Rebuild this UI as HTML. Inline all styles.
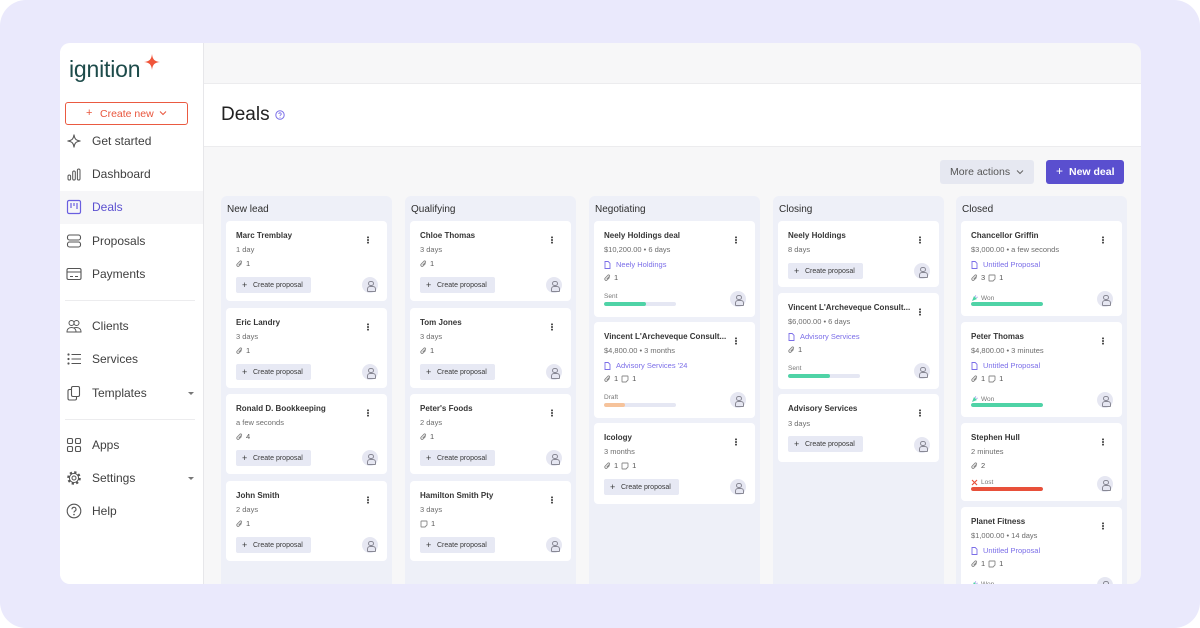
<!DOCTYPE html>
<html><head><meta charset="utf-8">
<style>
*{box-sizing:border-box}
body{margin:0;width:1200px;height:628px;background:#fff;position:relative;overflow:hidden;font-family:"Liberation Sans",sans-serif}
#bg{position:absolute;left:0;top:0;width:1200px;height:628px;background:#eae9fc;border-radius:26px}
#panel{position:absolute;left:60px;top:43px;width:1081px;height:541px;border-radius:10px;overflow:hidden;background:#f7f7f8}
#pg{position:absolute;left:-60px;top:-43px;width:1200px;height:628px}
.a{position:absolute}
.nav{position:absolute;left:92px;font-size:12px;line-height:16px;color:#3f3f3f;white-space:nowrap}
.nic{position:absolute;left:66px;width:16px;height:16px}
.div{position:absolute;left:65px;width:130px;height:1px;background:#ececee}
.chev{position:absolute;left:188px;width:0;height:0;border-left:3px solid transparent;border-right:3px solid transparent;border-top:3px solid #777}
.col{position:absolute;top:196px;width:171px;height:400px;background:#eef0f8;border-radius:6px}
.ct{position:absolute;left:6px;top:8px;font-size:10px;line-height:12px;color:#2e2e2e}
.card{position:absolute;left:5px;width:161px;background:#fff;border-radius:4px}
.nm{position:absolute;left:10px;font-size:8px;font-weight:bold;line-height:12px;color:#363636;white-space:nowrap}
.sb{position:absolute;left:10px;font-size:7.5px;line-height:10px;color:#6d6d6d;white-space:nowrap}
.ic{position:absolute;left:10px;height:10px;display:flex;align-items:center;font-size:7.5px;line-height:10px;color:#555;white-space:nowrap}
.ic svg{margin-right:3px}
.ic .g{margin-left:3px}
.lk{position:absolute;left:10px;height:10px;display:flex;align-items:center;font-size:7.5px;line-height:10px;color:#7b6ee8;white-space:nowrap}
.lk svg{margin-right:5px}
.btn{position:absolute;left:10px;width:75px;height:16px;background:#e7e9f4;border-radius:2px;font-size:7px;color:#3a3a3a;white-space:nowrap}
.btn b{position:absolute;left:6px;top:0;height:16px;line-height:16px;font-weight:normal;font-size:9px}
.btn span{position:absolute;left:17px;top:1px;height:15px;line-height:15px}
.av{position:absolute;left:136px;width:16px;height:16px;border-radius:50%;background:#e6e7f2}
.av::before{content:"";position:absolute;left:6.25px;top:3.5px;width:3.5px;height:3.5px;border:1px solid #888894;border-radius:50%}
.av::after{content:"";position:absolute;left:4.5px;top:8.5px;width:7px;height:4px;border:1px solid #888894;border-radius:3px 3px 1px 1px}
.kb{position:absolute;left:141px;width:1.8px;height:1.8px;border-radius:50%;background:#444;box-shadow:0 -2.6px 0 #444,0 2.6px 0 #444}
.stl{position:absolute;left:10px;font-size:6.5px;line-height:9px;color:#777;white-space:nowrap;display:flex;align-items:center}
.bar{position:absolute;left:10px;width:72px;height:4px;border-radius:2px;background:#e5e7f3;overflow:hidden}
.bar i{position:absolute;left:0;top:0;height:4px;border-radius:2px}
</style></head><body>
<div id="bg"></div>
<div id="panel"><div id="pg">

<!-- sidebar -->
<div class="a" style="left:60px;top:43px;width:144px;height:541px;background:#fff;border-right:1px solid #e7e7ea"></div>
<div class="a" style="left:69px;top:56px;font-size:23px;line-height:26px;color:#1d4b4a;letter-spacing:-0.2px">ignition</div>
<svg class="a" style="left:144px;top:54px" width="16" height="16" viewBox="0 0 16 16"><path d="M8 0 C8.6 5.5 10.5 7.4 16 8 C10.5 8.6 8.6 10.5 8 16 C7.4 10.5 5.5 8.6 0 8 C5.5 7.4 7.4 5.5 8 0Z" fill="#f0553a"/></svg>

<div class="a" style="left:65px;top:102px;width:123px;height:23px;border:1px solid #ea5a41;border-radius:3px"></div>
<div class="a" style="left:86px;top:106px;font-size:11px;line-height:14px;color:#e8553c">+</div>
<div class="a" style="left:100px;top:107px;font-size:10.5px;line-height:14px;color:#e8553c">Create new</div>
<svg class="a" style="left:159px;top:110px" width="8" height="6" viewBox="0 0 8 6"><path d="M1 1.5 4 4.5 7 1.5" fill="none" stroke="#e8553c" stroke-width="1"/></svg>

<div class="a" style="left:60px;top:191px;width:143px;height:33px;background:#f6f6f8"></div>

<svg class="nic" style="top:133px" viewBox="0 0 16 16"><path d="M8 1.5C8.5 6 10 7.5 14.5 8 10 8.5 8.5 10 8 14.5 7.5 10 6 8.5 1.5 8 6 7.5 7.5 6 8 1.5Z" fill="none" stroke="#555" stroke-width="1.1"/></svg>
<div class="nav" style="top:133px">Get started</div>

<svg class="nic" style="top:166px" viewBox="0 0 16 16"><rect x="2" y="9" width="2.6" height="5" rx="1.3" fill="none" stroke="#555" stroke-width="1"/><rect x="6.7" y="5" width="2.6" height="9" rx="1.3" fill="none" stroke="#555" stroke-width="1"/><rect x="11.4" y="3" width="2.6" height="11" rx="1.3" fill="none" stroke="#555" stroke-width="1"/></svg>
<div class="nav" style="top:166px">Dashboard</div>

<svg class="nic" style="top:199px" viewBox="0 0 16 16"><rect x="1.5" y="1.5" width="13" height="13" rx="1.5" fill="none" stroke="#6a5fe0" stroke-width="1.2"/><path d="M5 4v5M8 4v3M11 4v6" stroke="#6a5fe0" stroke-width="1.2"/></svg>
<div class="nav" style="top:199px;color:#5b50d0">Deals</div>

<svg class="nic" style="top:233px" viewBox="0 0 16 16"><rect x="1.5" y="2" width="13" height="5" rx="2" fill="none" stroke="#555" stroke-width="1.1"/><rect x="1.5" y="9" width="13" height="5" rx="2" fill="none" stroke="#555" stroke-width="1.1"/></svg>
<div class="nav" style="top:233px">Proposals</div>

<svg class="nic" style="top:266px" viewBox="0 0 16 16"><rect x="1" y="2.5" width="14" height="11" rx="1.5" fill="none" stroke="#555" stroke-width="1.1"/><path d="M1 6h14M4 10.5h3M9 10.5h3" stroke="#555" stroke-width="1.1"/></svg>
<div class="nav" style="top:266px">Payments</div>

<div class="div" style="top:300px"></div>

<svg class="nic" style="top:318px" viewBox="0 0 16 16"><circle cx="5.5" cy="5" r="2.5" fill="none" stroke="#555" stroke-width="1"/><circle cx="10.5" cy="5" r="2.5" fill="none" stroke="#555" stroke-width="1"/><path d="M1 14c0-3 2-4.5 4.5-4.5S10 11 10 14ZM8 9.8c.8-.3 1.6-.3 2.5-.3C13 9.5 15 11 15 14h-5" fill="none" stroke="#555" stroke-width="1"/></svg>
<div class="nav" style="top:318px">Clients</div>

<svg class="nic" style="top:351px" viewBox="0 0 16 16"><circle cx="2.5" cy="3.5" r="1.1" fill="#555"/><circle cx="2.5" cy="8" r="1.1" fill="#555"/><circle cx="2.5" cy="12.5" r="1.1" fill="#555"/><path d="M5.5 3.5H15M5.5 8H15M5.5 12.5H15" stroke="#555" stroke-width="1.1"/></svg>
<div class="nav" style="top:351px">Services</div>

<svg class="nic" style="top:385px" viewBox="0 0 16 16"><rect x="5.5" y="1.5" width="8" height="10" rx="1.5" fill="none" stroke="#555" stroke-width="1.1"/><path d="M5 4.5H3.5A1.5 1.5 0 0 0 2 6v7.5A1.5 1.5 0 0 0 3.5 15H9a1.5 1.5 0 0 0 1.5-1.5V12" fill="none" stroke="#555" stroke-width="1.1"/></svg>
<div class="nav" style="top:385px">Templates</div>
<div class="chev" style="top:392px"></div>

<div class="div" style="top:419px"></div>

<svg class="nic" style="top:437px" viewBox="0 0 16 16"><rect x="1.5" y="1.5" width="5" height="5" rx="1.3" fill="none" stroke="#555" stroke-width="1.1"/><rect x="9.5" y="1.5" width="5" height="5" rx="1.3" fill="none" stroke="#555" stroke-width="1.1"/><rect x="1.5" y="9.5" width="5" height="5" rx="1.3" fill="none" stroke="#555" stroke-width="1.1"/><rect x="9.5" y="9.5" width="5" height="5" rx="1.3" fill="none" stroke="#555" stroke-width="1.1"/></svg>
<div class="nav" style="top:437px">Apps</div>

<svg class="nic" style="top:470px" viewBox="0 0 16 16"><circle cx="8" cy="8" r="5.6" fill="none" stroke="#555" stroke-width="2.4" stroke-dasharray="2.2 2.2"/><circle cx="8" cy="8" r="4.6" fill="#fff" stroke="#555" stroke-width="1"/><circle cx="8" cy="8" r="2" fill="none" stroke="#555" stroke-width="1"/></svg>
<div class="nav" style="top:470px">Settings</div>
<div class="chev" style="top:477px"></div>

<svg class="nic" style="top:503px" viewBox="0 0 16 16"><circle cx="8" cy="8" r="6.8" fill="none" stroke="#555" stroke-width="1.1"/><path d="M6 6.3a2 2 0 1 1 2.8 1.8c-.6.3-.8.7-.8 1.4" fill="none" stroke="#555" stroke-width="1.1"/><circle cx="8" cy="11.6" r=".8" fill="#555"/></svg>
<div class="nav" style="top:503px">Help</div>

<!-- header -->
<div class="a" style="left:204px;top:83px;width:937px;height:64px;background:#fff;border-top:1px solid #ececee;border-bottom:1px solid #ececee"></div>
<div class="a" style="left:221px;top:104px;font-size:19px;line-height:22px;color:#222">Deals</div>
<svg class="a" style="left:275px;top:110px" width="10" height="10" viewBox="0 0 10 10"><circle cx="5" cy="5" r="4.2" fill="none" stroke="#7b6fe8" stroke-width="1"/><path d="M3.8 4a1.2 1.2 0 1 1 1.7 1.1c-.4.2-.5.4-.5.8" fill="none" stroke="#7b6fe8" stroke-width=".9"/><circle cx="5" cy="7.3" r=".5" fill="#7b6fe8"/></svg>

<div class="a" style="left:940px;top:160px;width:94px;height:24px;background:#e6e8f1;border-radius:3px"></div>
<div class="a" style="left:950px;top:165px;font-size:10.5px;line-height:14px;color:#555">More actions</div>
<svg class="a" style="left:1016px;top:169px" width="8" height="6" viewBox="0 0 8 6"><path d="M1 1.5 4 4.5 7 1.5" fill="none" stroke="#666" stroke-width="1"/></svg>
<div class="a" style="left:1046px;top:160px;width:78px;height:24px;background:#5a4fcf;border-radius:3px"></div>
<div class="a" style="left:1056px;top:164px;font-size:12px;line-height:15px;color:#fff">+</div>
<div class="a" style="left:1069px;top:165px;font-size:10.5px;line-height:14px;color:#fff;font-weight:bold">New deal</div>

<!-- COLUMN: New lead -->
<div class="col" style="left:221px"><div class="ct">New lead</div>
 <div class="card" style="top:25px;height:80px"><div class="nm" style="top:9px">Marc Tremblay</div><div class="kb" style="top:18px"></div><div class="sb" style="top:24px">1 day</div><div class="ic" style="top:38px"><svg width="7" height="8" viewBox="0 0 7 8"><path d="M5.6 3.4 3.1 6A1.3 1.3 0 0 1 1.2 4.1L4 1.2a.9.9 0 0 1 1.3 1.3L2.6 5.2" fill="none" stroke="#888" stroke-width=".9"/></svg>1</div><div class="btn" style="top:56px"><b>+</b><span>Create proposal</span></div><div class="av" style="top:56px"></div></div>
 <div class="card" style="top:112px;height:80px"><div class="nm" style="top:9px">Eric Landry</div><div class="kb" style="top:18px"></div><div class="sb" style="top:24px">3 days</div><div class="ic" style="top:38px"><svg width="7" height="8" viewBox="0 0 7 8"><path d="M5.6 3.4 3.1 6A1.3 1.3 0 0 1 1.2 4.1L4 1.2a.9.9 0 0 1 1.3 1.3L2.6 5.2" fill="none" stroke="#888" stroke-width=".9"/></svg>1</div><div class="btn" style="top:56px"><b>+</b><span>Create proposal</span></div><div class="av" style="top:56px"></div></div>
 <div class="card" style="top:198px;height:80px"><div class="nm" style="top:9px">Ronald D. Bookkeeping</div><div class="kb" style="top:18px"></div><div class="sb" style="top:24px">a few seconds</div><div class="ic" style="top:38px"><svg width="7" height="8" viewBox="0 0 7 8"><path d="M5.6 3.4 3.1 6A1.3 1.3 0 0 1 1.2 4.1L4 1.2a.9.9 0 0 1 1.3 1.3L2.6 5.2" fill="none" stroke="#888" stroke-width=".9"/></svg>4</div><div class="btn" style="top:56px"><b>+</b><span>Create proposal</span></div><div class="av" style="top:56px"></div></div>
 <div class="card" style="top:285px;height:80px"><div class="nm" style="top:9px">John Smith</div><div class="kb" style="top:18px"></div><div class="sb" style="top:24px">2 days</div><div class="ic" style="top:38px"><svg width="7" height="8" viewBox="0 0 7 8"><path d="M5.6 3.4 3.1 6A1.3 1.3 0 0 1 1.2 4.1L4 1.2a.9.9 0 0 1 1.3 1.3L2.6 5.2" fill="none" stroke="#888" stroke-width=".9"/></svg>1</div><div class="btn" style="top:56px"><b>+</b><span>Create proposal</span></div><div class="av" style="top:56px"></div></div>
</div>

<!-- COLUMN: Qualifying -->
<div class="col" style="left:405px"><div class="ct">Qualifying</div>
 <div class="card" style="top:25px;height:80px"><div class="nm" style="top:9px">Chloe Thomas</div><div class="kb" style="top:18px"></div><div class="sb" style="top:24px">3 days</div><div class="ic" style="top:38px"><svg width="7" height="8" viewBox="0 0 7 8"><path d="M5.6 3.4 3.1 6A1.3 1.3 0 0 1 1.2 4.1L4 1.2a.9.9 0 0 1 1.3 1.3L2.6 5.2" fill="none" stroke="#888" stroke-width=".9"/></svg>1</div><div class="btn" style="top:56px"><b>+</b><span>Create proposal</span></div><div class="av" style="top:56px"></div></div>
 <div class="card" style="top:112px;height:80px"><div class="nm" style="top:9px">Tom Jones</div><div class="kb" style="top:18px"></div><div class="sb" style="top:24px">3 days</div><div class="ic" style="top:38px"><svg width="7" height="8" viewBox="0 0 7 8"><path d="M5.6 3.4 3.1 6A1.3 1.3 0 0 1 1.2 4.1L4 1.2a.9.9 0 0 1 1.3 1.3L2.6 5.2" fill="none" stroke="#888" stroke-width=".9"/></svg>1</div><div class="btn" style="top:56px"><b>+</b><span>Create proposal</span></div><div class="av" style="top:56px"></div></div>
 <div class="card" style="top:198px;height:80px"><div class="nm" style="top:9px">Peter's Foods</div><div class="kb" style="top:18px"></div><div class="sb" style="top:24px">2 days</div><div class="ic" style="top:38px"><svg width="7" height="8" viewBox="0 0 7 8"><path d="M5.6 3.4 3.1 6A1.3 1.3 0 0 1 1.2 4.1L4 1.2a.9.9 0 0 1 1.3 1.3L2.6 5.2" fill="none" stroke="#888" stroke-width=".9"/></svg>1</div><div class="btn" style="top:56px"><b>+</b><span>Create proposal</span></div><div class="av" style="top:56px"></div></div>
 <div class="card" style="top:285px;height:80px"><div class="nm" style="top:9px">Hamilton Smith Pty</div><div class="kb" style="top:18px"></div><div class="sb" style="top:24px">3 days</div><div class="ic" style="top:38px"><svg width="8" height="8" viewBox="0 0 8 8"><path d="M1.5 1h5a.5.5 0 0 1 .5.5V5L5 7H1.5a.5.5 0 0 1-.5-.5v-5a.5.5 0 0 1 .5-.5Z" fill="none" stroke="#888" stroke-width=".9"/></svg>1</div><div class="btn" style="top:56px"><b>+</b><span>Create proposal</span></div><div class="av" style="top:56px"></div></div>
</div>

<!-- COLUMN: Negotiating -->
<div class="col" style="left:589px"><div class="ct">Negotiating</div>
 <div class="card" style="top:25px;height:96px"><div class="nm" style="top:9px">Neely Holdings deal</div><div class="kb" style="top:18px"></div><div class="sb" style="top:24px">$10,200.00 • 6 days</div>
  <div class="lk" style="top:39px"><svg width="7" height="8" viewBox="0 0 7 8"><path d="M1 .5h3.2L6 2.3v5.2H1Z" fill="none" stroke="#7b6ee8" stroke-width=".9"/></svg>Neely Holdings</div>
  <div class="ic" style="top:52px"><svg width="7" height="8" viewBox="0 0 7 8"><path d="M5.6 3.4 3.1 6A1.3 1.3 0 0 1 1.2 4.1L4 1.2a.9.9 0 0 1 1.3 1.3L2.6 5.2" fill="none" stroke="#888" stroke-width=".9"/></svg>1</div>
  <div class="stl" style="top:71px">Sent</div><div class="bar" style="top:81px"><i style="width:42px;background:#4fd3a6"></i></div><div class="av" style="top:70px"></div></div>
 <div class="card" style="top:126px;height:96px"><div class="nm" style="top:9px">Vincent L'Archeveque Consult...</div><div class="kb" style="top:18px"></div><div class="sb" style="top:24px">$4,800.00 • 3 months</div>
  <div class="lk" style="top:39px"><svg width="7" height="8" viewBox="0 0 7 8"><path d="M1 .5h3.2L6 2.3v5.2H1Z" fill="none" stroke="#7b6ee8" stroke-width=".9"/></svg>Advisory Services '24</div>
  <div class="ic" style="top:52px"><svg width="7" height="8" viewBox="0 0 7 8"><path d="M5.6 3.4 3.1 6A1.3 1.3 0 0 1 1.2 4.1L4 1.2a.9.9 0 0 1 1.3 1.3L2.6 5.2" fill="none" stroke="#888" stroke-width=".9"/></svg>1<svg class="g" width="8" height="8" viewBox="0 0 8 8"><path d="M1.5 1h5a.5.5 0 0 1 .5.5V5L5 7H1.5a.5.5 0 0 1-.5-.5v-5a.5.5 0 0 1 .5-.5Z" fill="none" stroke="#888" stroke-width=".9"/></svg>1</div>
  <div class="stl" style="top:71px">Draft</div><div class="bar" style="top:81px"><i style="width:21px;background:#f6c39b"></i></div><div class="av" style="top:70px"></div></div>
 <div class="card" style="top:227px;height:81px"><div class="nm" style="top:9px">Icology</div><div class="kb" style="top:18px"></div><div class="sb" style="top:24px">3 months</div><div class="ic" style="top:38px"><svg width="7" height="8" viewBox="0 0 7 8"><path d="M5.6 3.4 3.1 6A1.3 1.3 0 0 1 1.2 4.1L4 1.2a.9.9 0 0 1 1.3 1.3L2.6 5.2" fill="none" stroke="#888" stroke-width=".9"/></svg>1<svg class="g" width="8" height="8" viewBox="0 0 8 8"><path d="M1.5 1h5a.5.5 0 0 1 .5.5V5L5 7H1.5a.5.5 0 0 1-.5-.5v-5a.5.5 0 0 1 .5-.5Z" fill="none" stroke="#888" stroke-width=".9"/></svg>1</div><div class="btn" style="top:56px"><b>+</b><span>Create proposal</span></div><div class="av" style="top:56px"></div></div>
</div>

<!-- COLUMN: Closing -->
<div class="col" style="left:773px"><div class="ct">Closing</div>
 <div class="card" style="top:25px;height:66px"><div class="nm" style="top:9px">Neely Holdings</div><div class="kb" style="top:18px"></div><div class="sb" style="top:24px">8 days</div><div class="btn" style="top:42px"><b>+</b><span>Create proposal</span></div><div class="av" style="top:42px"></div></div>
 <div class="card" style="top:97px;height:96px"><div class="nm" style="top:9px">Vincent L'Archeveque Consult...</div><div class="kb" style="top:18px"></div><div class="sb" style="top:24px">$6,000.00 • 6 days</div>
  <div class="lk" style="top:39px"><svg width="7" height="8" viewBox="0 0 7 8"><path d="M1 .5h3.2L6 2.3v5.2H1Z" fill="none" stroke="#7b6ee8" stroke-width=".9"/></svg>Advisory Services</div>
  <div class="ic" style="top:52px"><svg width="7" height="8" viewBox="0 0 7 8"><path d="M5.6 3.4 3.1 6A1.3 1.3 0 0 1 1.2 4.1L4 1.2a.9.9 0 0 1 1.3 1.3L2.6 5.2" fill="none" stroke="#888" stroke-width=".9"/></svg>1</div>
  <div class="stl" style="top:71px">Sent</div><div class="bar" style="top:81px"><i style="width:42px;background:#4fd3a6"></i></div><div class="av" style="top:70px"></div></div>
 <div class="card" style="top:198px;height:68px"><div class="nm" style="top:9px">Advisory Services</div><div class="kb" style="top:18px"></div><div class="sb" style="top:25px">3 days</div><div class="btn" style="top:42px"><b>+</b><span>Create proposal</span></div><div class="av" style="top:43px"></div></div>
</div>

<!-- COLUMN: Closed -->
<div class="col" style="left:956px"><div class="ct">Closed</div>
 <div class="card" style="top:25px;height:95px"><div class="nm" style="top:9px">Chancellor Griffin</div><div class="kb" style="top:18px"></div><div class="sb" style="top:24px">$3,000.00 • a few seconds</div>
  <div class="lk" style="top:39px"><svg width="7" height="8" viewBox="0 0 7 8"><path d="M1 .5h3.2L6 2.3v5.2H1Z" fill="none" stroke="#7b6ee8" stroke-width=".9"/></svg>Untitled Proposal</div>
  <div class="ic" style="top:52px"><svg width="7" height="8" viewBox="0 0 7 8"><path d="M5.6 3.4 3.1 6A1.3 1.3 0 0 1 1.2 4.1L4 1.2a.9.9 0 0 1 1.3 1.3L2.6 5.2" fill="none" stroke="#888" stroke-width=".9"/></svg>3<svg class="g" width="8" height="8" viewBox="0 0 8 8"><path d="M1.5 1h5a.5.5 0 0 1 .5.5V5L5 7H1.5a.5.5 0 0 1-.5-.5v-5a.5.5 0 0 1 .5-.5Z" fill="none" stroke="#888" stroke-width=".9"/></svg>1</div>
  <div class="stl" style="top:73px"><svg width="7" height="7" viewBox="0 0 7 7" style="margin-right:3px"><path d="M1 6 3 1 6 4Z" fill="#4fd3a6"/><path d="M4 1.5 5 .5M5.5 2.5 6.5 2" stroke="#7b6ee8" stroke-width=".7"/></svg>Won</div><div class="bar" style="top:81px"><i style="width:72px;background:#4fd3a6"></i></div><div class="av" style="top:70px"></div></div>
 <div class="card" style="top:126px;height:95px"><div class="nm" style="top:9px">Peter Thomas</div><div class="kb" style="top:18px"></div><div class="sb" style="top:24px">$4,800.00 • 3 minutes</div>
  <div class="lk" style="top:39px"><svg width="7" height="8" viewBox="0 0 7 8"><path d="M1 .5h3.2L6 2.3v5.2H1Z" fill="none" stroke="#7b6ee8" stroke-width=".9"/></svg>Untitled Proposal</div>
  <div class="ic" style="top:52px"><svg width="7" height="8" viewBox="0 0 7 8"><path d="M5.6 3.4 3.1 6A1.3 1.3 0 0 1 1.2 4.1L4 1.2a.9.9 0 0 1 1.3 1.3L2.6 5.2" fill="none" stroke="#888" stroke-width=".9"/></svg>1<svg class="g" width="8" height="8" viewBox="0 0 8 8"><path d="M1.5 1h5a.5.5 0 0 1 .5.5V5L5 7H1.5a.5.5 0 0 1-.5-.5v-5a.5.5 0 0 1 .5-.5Z" fill="none" stroke="#888" stroke-width=".9"/></svg>1</div>
  <div class="stl" style="top:73px"><svg width="7" height="7" viewBox="0 0 7 7" style="margin-right:3px"><path d="M1 6 3 1 6 4Z" fill="#4fd3a6"/><path d="M4 1.5 5 .5M5.5 2.5 6.5 2" stroke="#7b6ee8" stroke-width=".7"/></svg>Won</div><div class="bar" style="top:81px"><i style="width:72px;background:#4fd3a6"></i></div><div class="av" style="top:70px"></div></div>
 <div class="card" style="top:227px;height:78px"><div class="nm" style="top:9px">Stephen Hull</div><div class="kb" style="top:18px"></div><div class="sb" style="top:24px">2 minutes</div>
  <div class="ic" style="top:38px"><svg width="7" height="8" viewBox="0 0 7 8"><path d="M5.6 3.4 3.1 6A1.3 1.3 0 0 1 1.2 4.1L4 1.2a.9.9 0 0 1 1.3 1.3L2.6 5.2" fill="none" stroke="#888" stroke-width=".9"/></svg>2</div>
  <div class="stl" style="top:55px"><svg width="7" height="7" viewBox="0 0 7 7" style="margin-right:3px"><path d="M1 1 6 6M6 1 1 6" stroke="#e8503a" stroke-width="1.2"/></svg>Lost</div><div class="bar" style="top:64px"><i style="width:72px;background:#e8503a"></i></div><div class="av" style="top:53px"></div></div>
 <div class="card" style="top:311px;height:95px"><div class="nm" style="top:9px">Planet Fitness</div><div class="kb" style="top:18px"></div><div class="sb" style="top:24px">$1,000.00 • 14 days</div>
  <div class="lk" style="top:39px"><svg width="7" height="8" viewBox="0 0 7 8"><path d="M1 .5h3.2L6 2.3v5.2H1Z" fill="none" stroke="#7b6ee8" stroke-width=".9"/></svg>Untitled Proposal</div>
  <div class="ic" style="top:52px"><svg width="7" height="8" viewBox="0 0 7 8"><path d="M5.6 3.4 3.1 6A1.3 1.3 0 0 1 1.2 4.1L4 1.2a.9.9 0 0 1 1.3 1.3L2.6 5.2" fill="none" stroke="#888" stroke-width=".9"/></svg>1<svg class="g" width="8" height="8" viewBox="0 0 8 8"><path d="M1.5 1h5a.5.5 0 0 1 .5.5V5L5 7H1.5a.5.5 0 0 1-.5-.5v-5a.5.5 0 0 1 .5-.5Z" fill="none" stroke="#888" stroke-width=".9"/></svg>1</div>
  <div class="stl" style="top:73px"><svg width="7" height="7" viewBox="0 0 7 7" style="margin-right:3px"><path d="M1 6 3 1 6 4Z" fill="#4fd3a6"/><path d="M4 1.5 5 .5M5.5 2.5 6.5 2" stroke="#7b6ee8" stroke-width=".7"/></svg>Won</div><div class="bar" style="top:81px"><i style="width:72px;background:#4fd3a6"></i></div><div class="av" style="top:70px"></div></div>
</div>

</div></div>
</body></html>
